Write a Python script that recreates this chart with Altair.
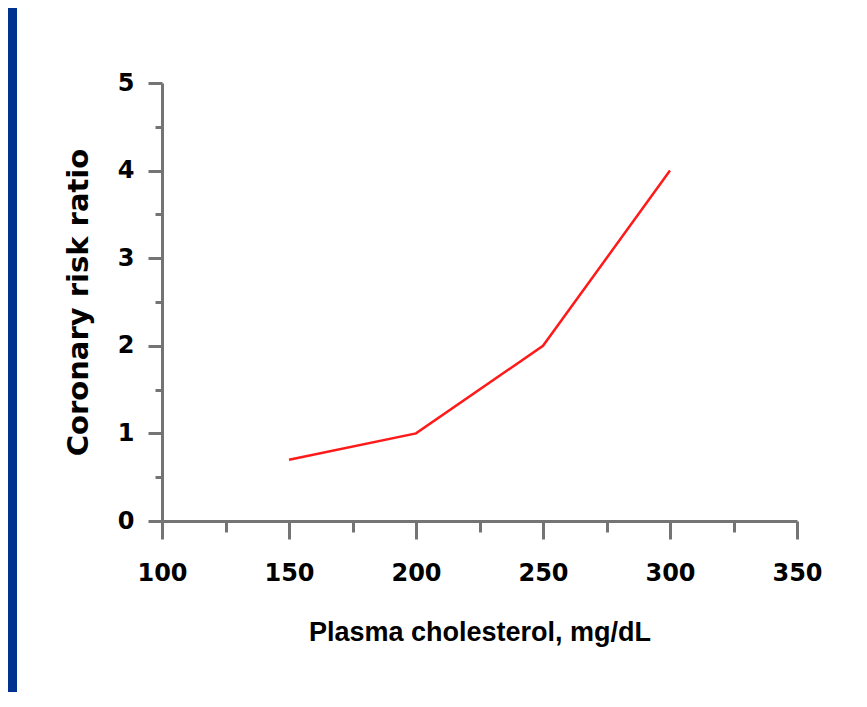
import altair as alt
import pandas as pd

# Data
cholesterol = [150, 200, 250, 300]
risk_ratio = [0.7, 1.0, 2.0, 4.0]

x_major = [100, 150, 200, 250, 300, 350]
x_minor = [125, 175, 225, 275, 325]
y_major = [0, 1, 2, 3, 4, 5]
y_minor = [0.5, 1.5, 2.5, 3.5, 4.5]

df = pd.DataFrame({"chol": cholesterol, "risk": risk_ratio})

W, H = 635, 438
PAD_L, PAD_T = 154, 75
TOTAL_W, TOTAL_H = 845, 684

AXIS_GRAY = "#747474"

x_scale = alt.Scale(domain=[100, 350], nice=False, zero=False)
y_scale = alt.Scale(domain=[0, 5], nice=False)

line = alt.Chart(df).mark_line(color="#ff1a1a", strokeWidth=2.5).encode(
    x=alt.X("chol:Q", scale=x_scale,
            axis=alt.Axis(orient="bottom", values=x_major, title="Plasma cholesterol, mg/dL",
                          grid=False, domainColor=AXIS_GRAY, domainWidth=3,
                          tickColor=AXIS_GRAY, tickWidth=3, tickSize=18,
                          labelFont="DejaVu Sans", labelFontWeight="bold", labelFontSize=24,
                          labelColor="black", labelPadding=22, labelFlush=False,
                          titleFont="Liberation Sans", titleFontWeight="bold", titleFontSize=27,
                          titleColor="black", titlePadding=34)),
    y=alt.Y("risk:Q", scale=y_scale,
            axis=alt.Axis(orient="left", values=y_major, title="Coronary risk ratio",
                          grid=False, domainColor=AXIS_GRAY, domainWidth=3,
                          tickColor=AXIS_GRAY, tickWidth=3, tickSize=14,
                          labelFont="DejaVu Sans", labelFontWeight="bold", labelFontSize=24,
                          labelColor="black", labelPadding=14, labelFlush=False,
                          titleFont="DejaVu Sans", titleFontWeight="bold", titleFontSize=29,
                          titleColor="black", titlePadding=24)),
)

minor = alt.Chart(df).mark_line(opacity=0).encode(
    x=alt.X("chol:Q", scale=x_scale,
            axis=alt.Axis(orient="bottom", values=x_minor, title=None, labels=False,
                          domain=False, grid=False, tickColor=AXIS_GRAY, tickWidth=3,
                          tickSize=11)),
    y=alt.Y("risk:Q", scale=y_scale,
            axis=alt.Axis(orient="left", values=y_minor, title=None, labels=False,
                          domain=False, grid=False, tickColor=AXIS_GRAY, tickWidth=3,
                          tickSize=7)),
)

border = alt.Chart(pd.DataFrame({"a": [0]})).mark_rect(color="#003290").encode(
    x=alt.value(-PAD_L), x2=alt.value(-PAD_L + 9),
    y=alt.value(-PAD_T), y2=alt.value(TOTAL_H - PAD_T),
)

chart = alt.layer(border, minor, line).resolve_axis(
    x="independent", y="independent"
).properties(
    width=W, height=H,
    autosize=alt.AutoSizeParams(type="none"),
    padding={"left": PAD_L, "top": PAD_T,
             "right": TOTAL_W - PAD_L - W, "bottom": TOTAL_H - PAD_T - H},
    background="white",
).configure_view(stroke=None)

chart.save("out.html", embed_options={"renderer": "svg", "actions": False})
